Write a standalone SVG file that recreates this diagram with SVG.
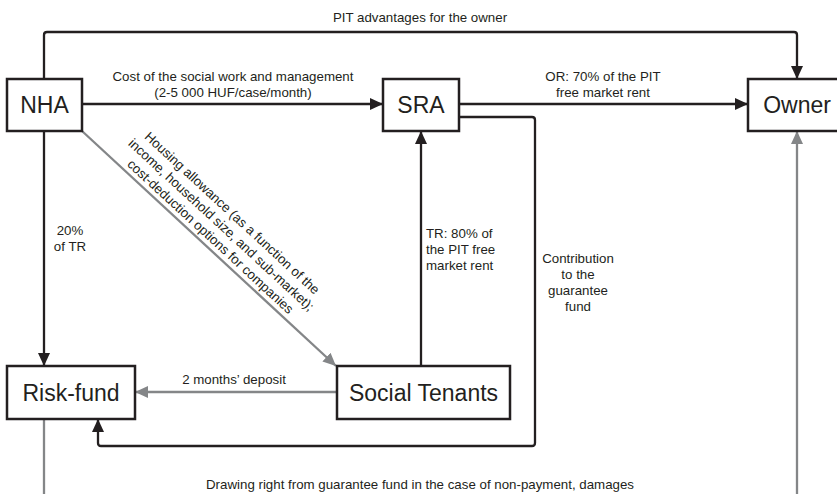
<svg xmlns="http://www.w3.org/2000/svg" width="837" height="494" viewBox="0 0 837 494">
<defs>
<style>
.box{fill:#fff;stroke:#231f20;stroke-width:2.5}
.nt{font-family:"Liberation Sans",Arial,sans-serif;font-size:23px;fill:#231f20;text-anchor:middle}
.lb{font-family:"Liberation Sans",Arial,sans-serif;font-size:13.3px;fill:#231f20}
.c{text-anchor:middle}
.dk{fill:none;stroke:#231f20;stroke-width:2.3;stroke-linejoin:round}
.gr{fill:none;stroke:#848688;stroke-width:2.3}
</style>
<marker id="ad" markerUnits="userSpaceOnUse" markerWidth="14" markerHeight="12" viewBox="0 0 14 12" refX="13" refY="6" orient="auto">
<path d="M0,0 L13,6 L0,12 Z" fill="#231f20"/>
</marker>
<marker id="ag" markerUnits="userSpaceOnUse" markerWidth="14" markerHeight="12" viewBox="0 0 14 12" refX="13" refY="6" orient="auto">
<path d="M0,0 L13,6 L0,12 Z" fill="#848688"/>
</marker>
</defs>
<rect width="837" height="494" fill="#fff"/>
<g id="connectors">
<path class="dk" d="M44,79 V35 Q44,32 47,32 H794 Q797,32 797,35 V79" marker-end="url(#ad)"/>
<path class="dk" d="M82,104 H383" marker-end="url(#ad)"/>
<path class="dk" d="M459,104 H748" marker-end="url(#ad)"/>
<path class="dk" d="M44,131 V366" marker-end="url(#ad)"/>
<path class="dk" d="M421,366 V131" marker-end="url(#ad)"/>
<path class="dk" d="M459,117 H532 Q535,117 535,120 V443 Q535,446 532,446 H101 Q98,446 98,443 V419" marker-end="url(#ad)"/>
<path class="gr" d="M82,131 L336,366" marker-end="url(#ag)"/>
<path class="gr" d="M337,392 H135" marker-end="url(#ag)"/>
<path class="gr" d="M44,419 V494"/>
<path class="gr" d="M797,494 V131" marker-end="url(#ag)"/>
<text class="lb c" x="420" y="22">PIT advantages for the owner</text>
<text class="lb c" x="233" y="81">Cost of the social work and management</text>
<text class="lb c" x="233" y="97">(2-5 000 HUF/case/month)</text>
<text class="lb c" x="603" y="81">OR: 70% of the PIT</text>
<text class="lb c" x="603" y="97">free market rent</text>
<text class="lb c" x="70" y="235">20%</text>
<text class="lb c" x="70" y="251">of TR</text>
<text class="lb" x="426" y="238">TR: 80% of</text>
<text class="lb" x="426" y="254">the PIT free</text>
<text class="lb" x="426" y="270">market rent</text>
<text class="lb c" x="578" y="263">Contribution</text>
<text class="lb c" x="578" y="279">to the</text>
<text class="lb c" x="578" y="295">guarantee</text>
<text class="lb c" x="578" y="311">fund</text>
<text class="lb c" x="234" y="384">2 months’ deposit</text>
<text class="lb c" x="420" y="489">Drawing right from guarantee fund in the case of non-payment, damages</text>
<g transform="translate(82,131) rotate(42.67)">
<text class="lb c" x="166" y="-37">Housing allowance (as a function of the</text>
<text class="lb c" x="166" y="-21">income, household size, and sub-market);</text>
<text class="lb c" x="166" y="-5">cost-deduction options for companies</text>
</g>
</g>
<g id="nha"><rect class="box" x="7" y="79" width="75" height="52"/><text class="nt" x="44.5" y="113">NHA</text></g>
<g id="sra"><rect class="box" x="383" y="79" width="76" height="52"/><text class="nt" x="421" y="113">SRA</text></g>
<g id="owner"><rect class="box" x="748" y="79" width="100" height="52"/><text class="nt" x="797" y="113">Owner</text></g>
<g id="riskfund"><rect class="box" x="7" y="366" width="128" height="53"/><text class="nt" x="71" y="401">Risk-fund</text></g>
<g id="tenants"><rect class="box" x="337" y="366" width="173" height="53"/><text class="nt" x="423.5" y="401">Social Tenants</text></g>
</svg>
